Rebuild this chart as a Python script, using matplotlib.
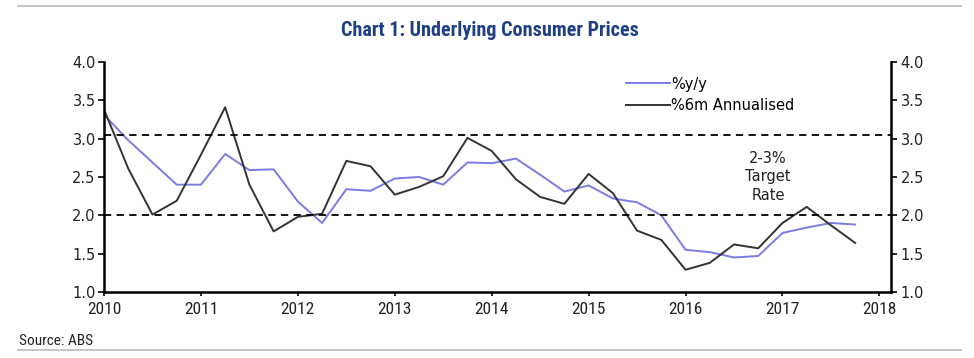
import numpy as np
import matplotlib
matplotlib.use("Agg")
import matplotlib.pyplot as plt
from matplotlib.lines import Line2D
from matplotlib import font_manager

# quarterly observations, 2010 Q1 .. 2017 Q4
quarters = 2010 + np.arange(32) * 0.25
yy = [3.31, 2.98, 2.69, 2.40, 2.40, 2.80, 2.59, 2.60,
      2.18, 1.90, 2.34, 2.32, 2.48, 2.50, 2.40, 2.69,
      2.68, 2.74, 2.53, 2.31, 2.39, 2.22, 2.17, 2.00,
      1.55, 1.52, 1.45, 1.47, 1.77, 1.84, 1.90, 1.88]
ann6m = [3.38, 2.61, 2.01, 2.19, 2.79, 3.41, 2.40, 1.79,
         1.98, 2.02, 2.71, 2.64, 2.27, 2.37, 2.51, 3.01,
         2.84, 2.47, 2.24, 2.15, 2.54, 2.29, 1.80, 1.68,
         1.29, 1.38, 1.62, 1.57, 1.90, 2.11, 1.87, 1.64]
target_lo, target_hi = 2.0, 3.05
years = list(range(2010, 2019))
yticks = [1.0, 1.5, 2.0, 2.5, 3.0, 3.5, 4.0]

# pick a condensed face if one is installed
names = {f.name for f in font_manager.fontManager.ttflist}
narrow_name = "Liberation Sans"
for cand in ["Liberation Sans Narrow", "DejaVu Sans Condensed", "Roboto Condensed",
             "Open Sans Condensed"]:
    if cand in names:
        narrow_name = cand
        break
narrow = [narrow_name, "DejaVu Sans"]

fig = plt.figure(figsize=(9.74, 3.58), dpi=100)
ax = fig.add_axes([0.1068, 0.1844, 0.808, 0.6424])

ax.plot(quarters, yy, color="#7b7be6", lw=1.4, label="%y/y")
ax.plot(quarters, ann6m, color="#333333", lw=1.4, label="%6m Annualised")
ax.axhline(target_hi, color="black", lw=1.3, ls=(0, (4, 3)))
ax.axhline(target_lo, color="black", lw=1.3, ls=(0, (4, 3)))

ax.set_xlim(2010, 2018.12)
ax.set_ylim(1.0, 4.0)
ax.set_xticks(years)
ax.set_xticklabels([str(y) for y in years], family=narrow, fontstretch="condensed",
                   fontsize=12.5, color="#222222")
ax.set_yticks(yticks)
ax.set_yticklabels(["%.1f" % v for v in yticks], fontsize=10.5, color="#222222")
ax.tick_params(axis="x", direction="out", length=3, width=1.2, pad=4)
ax.tick_params(axis="y", direction="out", length=4, width=1.2, pad=2)

ax2 = ax.twinx()
ax2.set_ylim(1.0, 4.0)
ax2.set_yticks(yticks)
ax2.set_yticklabels(["%.1f" % v for v in yticks], fontsize=10.5, color="#222222")
ax2.tick_params(axis="y", direction="out", length=4, width=1.2, pad=3)

for a in (ax, ax2):
    a.spines["top"].set_visible(False)
    for s in ("left", "right", "bottom"):
        a.spines[s].set_linewidth(1.8)
ax.spines["right"].set_visible(False)
ax2.spines["left"].set_visible(False)
ax2.spines["bottom"].set_visible(False)

ax.text(2016.85, 2.5, "2-3%\nTarget\nRate", ha="center", va="center",
        fontsize=10.5, color="#222222", linespacing=1.3)

ax.legend(loc="upper left", bbox_to_anchor=(0.645, 1.0), frameon=False,
          fontsize=10.5, handlelength=3.0, handletextpad=0.1,
          labelspacing=0.45, borderaxespad=0.6)

fig.text(0.503, 0.915, "Chart 1: Underlying Consumer Prices", ha="center",
         va="center", fontsize=14.5, fontweight="bold", color="#1f3f85",
         family=narrow, fontstretch="condensed")
fig.text(0.019, 0.048, "Source: ABS", ha="left", va="center", fontsize=11,
         family=narrow, fontstretch="condensed", color="#222222")

fig.add_artist(Line2D([0.018, 0.987], [0.983, 0.983], color="#bbbbbb", lw=1.2))
fig.add_artist(Line2D([0.018, 0.987], [0.022, 0.022], color="#bbbbbb", lw=1.2))

fig.savefig("out.png", dpi=100)
